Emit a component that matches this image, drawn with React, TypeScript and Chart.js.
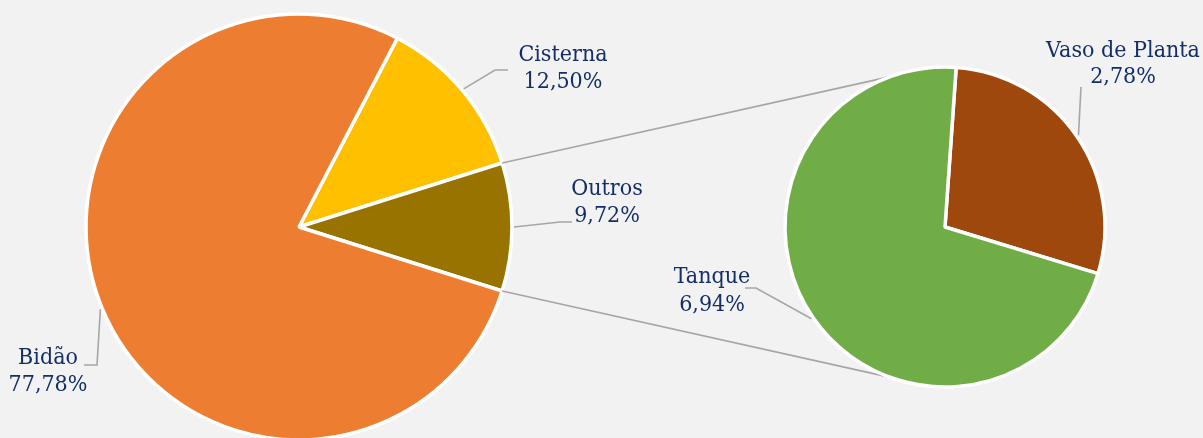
import React, { useEffect, useRef } from "react";
import { Chart, registerables } from "chart.js";

Chart.register(...registerables);

// ---- data ----
const mainCategories = ["Cisterna", "Outros", "Bidão"];
const mainValues = [12.5, 9.72, 77.78];
const mainColors = ["#FFC000", "#997300", "#ED7D31"];

const subCategories = ["Vaso de Planta", "Tanque"];
const subValues = [2.78, 6.94];
const subColors = ["#9E480E", "#70AD47"];

const fmt = (v: number) => v.toFixed(2).replace(".", ",") + "%";

// ---- layout ----
const W = 1203;
const H = 438;
const CH = 480;
const MAIN = { cx: 299, cy: 227, r: 213 };
const SUB = { cx: 945, cy: 227, r: 160 };
const SUB_ROTATION = 4;
const CONNECT_ANGLE = 110;
const TEXT = "#142F68";
const LINE = "#A6A6A6";
const FONT = "22px 'DejaVu Serif'";
const TEXT_SCALE_X = 0.94;
const BORDER = 3.5;

// label text centre x, baselines, leader path after arc point
const labelLayout: Record<string, { x: number; y1: number; y2: number; path: [number, number][] }> = {
  "Cisterna": { x: 563, y1: 61, y2: 88, path: [[495, 70], [508, 70]] },
  "Outros": { x: 607, y1: 195, y2: 222, path: [[560, 222], [572, 222]] },
  "Bidão": { x: 48, y1: 364, y2: 391, path: [[97, 365], [84, 365]] },
  "Vaso de Planta": { x: 1123, y1: 57, y2: 83, path: [[1081, 87]] },
  "Tanque": { x: 712, y1: 283, y2: 311, path: [[756, 288], [745, 288]] },
};

function drawText(ctx: CanvasRenderingContext2D, text: string, x: number, y: number) {
  ctx.save();
  ctx.translate(x, y);
  ctx.scale(TEXT_SCALE_X, 1);
  ctx.fillText(text, 0, 0);
  ctx.restore();
}

function labelPlugin(id: string) {
  return {
    id,
    afterDatasetsDraw(chart: any) {
      const ctx = chart.ctx;
      const meta = chart.getDatasetMeta(0);
      const labels = chart.data.labels as string[];
      const values = chart.data.datasets[0].data as number[];
      ctx.save();
      meta.data.forEach((arc: any, i: number) => {
        const lay = labelLayout[labels[i]];
        if (!lay) return;
        const p = arc.getProps(["x", "y", "startAngle", "endAngle", "outerRadius"], true);
        const mid = (p.startAngle + p.endAngle) / 2;
        const sx = p.x + Math.cos(mid) * (p.outerRadius + 2);
        const sy = p.y + Math.sin(mid) * (p.outerRadius + 2);
        ctx.strokeStyle = LINE;
        ctx.lineWidth = 1.6;
        ctx.beginPath();
        ctx.moveTo(sx, sy);
        lay.path.forEach(([x, y]) => ctx.lineTo(x, y));
        ctx.stroke();
        ctx.fillStyle = TEXT;
        ctx.font = FONT;
        ctx.textAlign = "center";
        ctx.textBaseline = "alphabetic";
        drawText(ctx, labels[i], lay.x, lay.y1);
        drawText(ctx, fmt(values[i]), lay.x, lay.y2);
      });
      ctx.restore();
    },
  };
}

export default function App() {
  const mainRef = useRef<HTMLCanvasElement>(null);
  const subRef = useRef<HTMLCanvasElement>(null);

  useEffect(() => {
    const outrosIdx = mainCategories.indexOf("Outros");
    const before = mainValues.slice(0, outrosIdx).reduce((a, b) => a + b, 0);
    const mainTotal = mainValues.reduce((a, b) => a + b, 0);
    const rotation = -((before + mainValues[outrosIdx] / 2) / mainTotal) * 360 + 90;

    const main = new Chart(mainRef.current!, {
      type: "pie",
      data: {
        labels: mainCategories,
        datasets: [
          {
            data: mainValues,
            backgroundColor: mainColors,
            borderColor: "#FFFFFF",
            borderWidth: BORDER,
          },
        ],
      },
      options: {
        responsive: false,
        animation: false,
        rotation,
        radius: MAIN.r,
        layout: {
          padding: {
            left: MAIN.cx - MAIN.r,
            top: MAIN.cy - MAIN.r,
            right: W - (MAIN.cx + MAIN.r),
            bottom: CH - (MAIN.cy + MAIN.r),
          },
        },
        plugins: { legend: { display: false }, tooltip: { enabled: false } },
      },
      plugins: [labelPlugin("mainLabels")],
    });

    const connectors = {
      id: "connectors",
      beforeDatasetsDraw(chart: any) {
        const arc: any = main.getDatasetMeta(0).data[outrosIdx];
        const p = arc.getProps(["x", "y", "startAngle", "endAngle", "outerRadius"], true);
        const sm = chart.getDatasetMeta(0).data[0] as any;
        const q = sm.getProps(["x", "y", "outerRadius"], true);
        const a1 = (-CONNECT_ANGLE * Math.PI) / 180;
        const a2 = (CONNECT_ANGLE * Math.PI) / 180;
        const ctx = chart.ctx;
        ctx.save();
        ctx.strokeStyle = LINE;
        ctx.lineWidth = 1.6;
        ctx.beginPath();
        ctx.moveTo(p.x + Math.cos(p.startAngle) * p.outerRadius, p.y + Math.sin(p.startAngle) * p.outerRadius);
        ctx.lineTo(q.x + Math.cos(a1) * q.outerRadius, q.y + Math.sin(a1) * q.outerRadius);
        ctx.moveTo(p.x + Math.cos(p.endAngle) * p.outerRadius, p.y + Math.sin(p.endAngle) * p.outerRadius);
        ctx.lineTo(q.x + Math.cos(a2) * q.outerRadius, q.y + Math.sin(a2) * q.outerRadius);
        ctx.stroke();
        ctx.restore();
      },
    };

    const sub = new Chart(subRef.current!, {
      type: "pie",
      data: {
        labels: subCategories,
        datasets: [
          {
            data: subValues,
            backgroundColor: subColors,
            borderColor: "#FFFFFF",
            borderWidth: BORDER,
          },
        ],
      },
      options: {
        responsive: false,
        animation: false,
        rotation: SUB_ROTATION,
        radius: SUB.r,
        layout: {
          padding: {
            left: SUB.cx - SUB.r,
            top: SUB.cy - SUB.r,
            right: W - (SUB.cx + SUB.r),
            bottom: CH - (SUB.cy + SUB.r),
          },
        },
        plugins: { legend: { display: false }, tooltip: { enabled: false } },
      },
      plugins: [connectors, labelPlugin("subLabels")],
    });

    return () => {
      sub.destroy();
      main.destroy();
    };
  }, []);

  return (
    <div
      style={{
        position: "fixed",
        left: 0,
        top: 0,
        width: W,
        height: H,
        overflow: "hidden",
        background: "#F2F2F2",
      }}
    >
      <canvas ref={mainRef} width={W} height={CH} style={{ position: "absolute", left: 0, top: 0 }} />
      <canvas ref={subRef} width={W} height={CH} style={{ position: "absolute", left: 0, top: 0 }} />
    </div>
  );
}
